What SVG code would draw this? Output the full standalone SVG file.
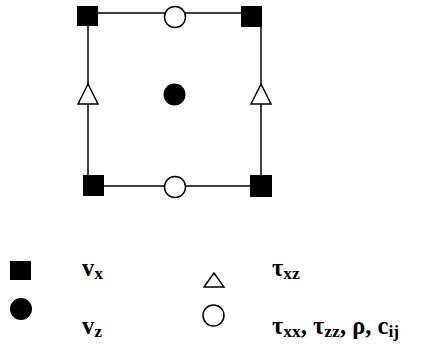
<svg xmlns="http://www.w3.org/2000/svg" width="438" height="347" viewBox="0 0 438 347">
<style>
.ln{stroke:#000;stroke-width:1.5;fill:none}
.sq{fill:#000}
.oc{fill:#fff;stroke:#000;stroke-width:1.5}
.tri{fill:#fff;stroke:#000;stroke-width:1.5}
.s{font-size:17.5px}
</style>
<rect width="438" height="347" fill="#fff"/>
<g id="connectors">
<line class="ln" x1="88" y1="13" x2="261" y2="13"/>
<line class="ln" x1="88" y1="186" x2="261" y2="186"/>
<line class="ln" x1="88" y1="13" x2="88" y2="186"/>
<line class="ln" x1="261" y1="13" x2="261" y2="186"/>
</g>
<g id="vx-tl"><rect class="sq" x="77" y="6" width="21" height="20"/></g>
<g id="vx-tr"><rect class="sq" x="241" y="6" width="21" height="21"/></g>
<g id="vx-bl"><rect class="sq" x="83" y="175" width="21" height="21"/></g>
<g id="vx-br"><rect class="sq" x="250" y="175" width="22" height="22"/></g>
<g id="tau-top"><circle class="oc" cx="175" cy="17" r="10.5"/></g>
<g id="tau-bottom"><circle class="oc" cx="175" cy="187" r="10.5"/></g>
<g id="txz-left"><polygon class="tri" points="88,84 78,104 98,104"/></g>
<g id="txz-right"><polygon class="tri" points="261,84 251,104 271,104"/></g>
<g id="vz-center"><circle cx="174.5" cy="94.5" r="11" fill="#000"/></g>
<g id="legend" font-family="Liberation Serif, serif" font-weight="bold" font-size="24.5">
<rect class="sq" x="10" y="261" width="21" height="19"/>
<circle cx="21" cy="309" r="11" fill="#000"/>
<polygon class="tri" points="214,273 204,287 224,287"/>
<circle class="oc" cx="213.5" cy="315.5" r="10.5"/>
<text x="82" y="276">v<tspan class="s" dy="3">x</tspan></text>
<text x="82" y="334">v<tspan class="s" dy="3">z</tspan></text>
<text x="272" y="276">τ<tspan class="s" dy="3">xz</tspan></text>
<text x="272" y="334">τ<tspan class="s" dy="3">xx</tspan><tspan dy="-3">, τ</tspan><tspan class="s" dy="3">zz</tspan><tspan dy="-3">, ρ, c</tspan><tspan class="s" dy="3">ij</tspan></text>
</g>
</svg>
